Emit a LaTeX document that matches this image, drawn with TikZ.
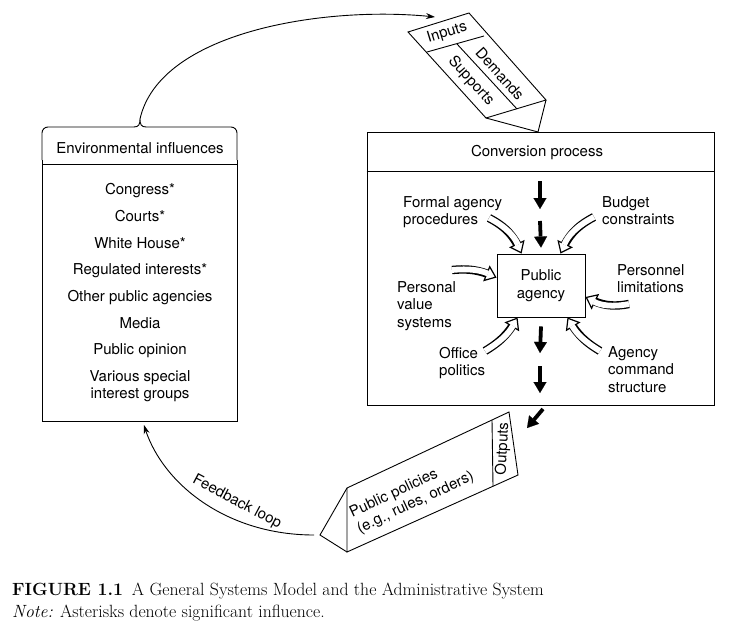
\documentclass[tikz,border=0pt]{standalone}
\usepackage{fontspec}
\setsansfont{TeX Gyre Heros}
\usetikzlibrary{arrows.meta,bending}

\tikzset{
  box/.style={draw, line width=0.9pt},
  entry/.style={inner sep=0pt, text height=10.5pt, text depth=3pt},
  lbl/.style={inner sep=0pt, align=left, anchor=north west},
  flow/.style={line width=3.8pt, -{Triangle[length=11pt 0 0, width=13pt 0 0, line width=0.1pt 0 0]}},
  hollow/.style={line width=8.4pt, -{Triangle[length=11pt 0 0, width=17pt 0 0, fill=white, line width=1.2pt 0 0]},
    postaction={draw=white, line width=5.8pt, -, shorten >=9.5pt}},
  link/.style={line width=0.9pt, -{Stealth[length=9pt 0 0, width=6pt 0 0]}},
  capt/.style={anchor=base west, inner sep=0pt, font=\rmfamily\fontsize{17.7}{20}\selectfont},
}

\begin{document}
\begin{tikzpicture}[x=1pt, y=-1pt, font=\sffamily\fontsize{15}{17.5}\selectfont]
    \useasboundingbox (0,0) rectangle (730,623);

    % environment
    \coordinate (brace) at (140,119);
    \draw[box] (42,160) -- (42,421) -- (237,421) -- (237,160);
    \draw[box, rounded corners=6pt] (42,160) -- (42,127) -- (134,127);
    \draw[box, rounded corners=6pt] (146,127) -- (237,127) -- (237,160);
    \draw[box] (134,127) .. controls (139,127) and (140,124) .. (brace) .. controls (140,124) and (141,127) .. (146,127);
    \draw[box] (42,164) -- (237,164);
    \node at (140,148) (envtitle) {Environmental influences};

    \node[entry] at (140,191) (congress) {Congress*};
    \node[entry] at (140,218) (courts) {Courts*};
    \node[entry] at (140,245) (whitehouse) {White House*};
    \node[entry] at (140,271) (regulated) {Regulated interests*};
    \node[entry] at (140,298) (agencies) {Other public agencies};
    \node[entry] at (140,325) (media) {Media};
    \node[entry] at (140,351) (opinion) {Public opinion};
    \node[entry] at (140,378) (various) {Various special};
    \node[entry] at (140,395) (groups) {interest groups};

    % inputs
    \draw[box] (408,32) -- (469,13) -- (546,100) -- (486,118) -- cycle;
    \draw[box] (427,52) -- (484,36);
    \draw[box] (457,44) -- (517,109);
    \draw[box] (486,118) -- (538,132) -- (546,100);
    \node[rotate=17] at (447,33) (inputs) {Inputs};
    \node[rotate=-48, inner sep=0pt] at (471,81) (supports) {Supports};
    \node[rotate=-48, inner sep=0pt] at (500,74) (demands) {Demands};

    \coordinate (inhead) at (435,17);
    \draw[link] (brace) .. controls (160,30) and (330,5) .. (inhead);

    % conversion
    \node[box, minimum width=347pt, minimum height=273pt] at (540.5,268.5) (conv) {};
    \draw[box] ([yshift=-40pt]conv.north west) -- ([yshift=-40pt]conv.north east);
    \node at (537,153) (convtitle) {Conversion process};

    \node[box, minimum width=88pt, minimum height=63pt, align=center, inner sep=0pt] at (541,285.5) (agency) {Public\\agency};

    \node[lbl] at (403,196) (formal) {Formal agency\\procedures};
    \node[lbl] at (602,196) (budget) {Budget\\constraints};
    \node[lbl] at (617,264) (personnel) {Personnel\\limitations};
    \node[lbl] at (397,281) (personal) {Personal\\value\\systems};
    \node[lbl] at (439,347) (office) {Office\\politics};
    \node[lbl] at (608,346) (command) {Agency\\command\\structure};

    \coordinate (f1a) at (540,181);
    \coordinate (f1b) at (540,209);
    \coordinate (f2a) at (540,221);
    \coordinate (f3b) at (540,353);
    \coordinate (f4a) at (540,366);
    \coordinate (f4b) at (540,393);
    \draw[flow] (f1a) -- (f1b);
    \draw[flow] (f2a) -- ([yshift=6pt]agency.north);
    \draw[flow] ([yshift=-9pt]agency.south) -- (f3b);
    \draw[flow] (f4a) -- (f4b);

    \coordinate (t1) at (489,218);
    \coordinate (t2) at (594,217);
    \coordinate (t3) at (452,270);
    \coordinate (t4) at (629,304);
    \coordinate (t5) at (485,351);
    \coordinate (t6) at (600,351);
    \draw[hollow] (t1) to[bend left=20] ([xshift=25pt]agency.north west);
    \draw[hollow] (t2) to[bend right=20] ([xshift=-25pt]agency.north east);
    \draw[hollow] (t3) to[bend left=15] ([yshift=-24pt]agency.north west);
    \draw[hollow] (t4) to[bend left=20] ([yshift=-11.5pt]agency.east);
    \draw[hollow] (t5) to[bend right=15] ([xshift=21pt]agency.south west);
    \draw[hollow] (t6) to[bend left=15] ([xshift=-18pt]agency.south east);

    % outputs
    \coordinate (o1) at (543,409);
    \coordinate (o2) at (527,428);
    \draw[flow] (o1) -- (o2);
    \draw[box] (347,488) -- (509,412) -- (518,475) -- (347,552) -- cycle;
    \draw[box] (492,420) -- (493,486);
    \draw[box] (347,488) -- (320,535) -- (347,552);
    \node[rotate=87] at (503,449) (outputs) {Outputs};
    \node[rotate=25, align=left] at (412,495) (policies) {Public policies\\(e.g., rules, orders)};

    % feedback
    \coordinate (fb) at (314,535);
    \coordinate (fbend) at (144,425);
    \draw[link] (fb) .. controls (225,535) and (160,482) .. (fbend);
    \node[rotate=-28] at (237,502) (feedback) {Feedback loop};

    \node[capt] at (12,595) (caption) {\textbf{FIGURE 1.1}\enspace A General Systems Model and the Administrative System};
    \node[capt] at (12,617) (note) {\textit{Note:} Asterisks denote significant influence.};
\end{tikzpicture}
\end{document}
